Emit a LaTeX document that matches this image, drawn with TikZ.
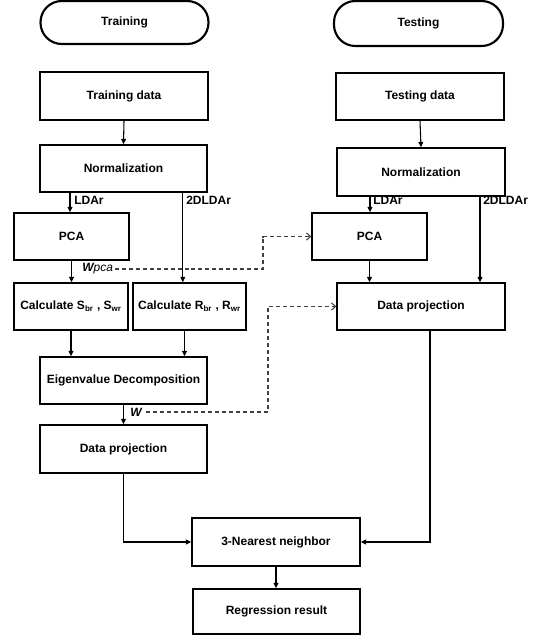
\documentclass[tikz,border=0pt]{standalone}
\usepackage{fontspec}
\setmainfont{Liberation Sans}
\usetikzlibrary{arrows.meta}
\begin{document}
\begin{tikzpicture}[x=0.75pt,y=-0.75pt,
  every node/.style={font=\fontsize{9}{11}\selectfont\bfseries},
  sz/.style 2 args={minimum width=#1*0.75pt, minimum height=#2*0.75pt, inner sep=0pt},
  box/.style={draw, line width=1.1pt},
  term/.style={draw, line width=1.6pt, rounded corners=16pt},
  lab/.style={anchor=west, inner sep=0pt},
  conn/.style={line width=0.8pt, -{Triangle[length=4pt,width=3.6pt]}},
  dconn/.style={line width=0.8pt, draw=black!75, dash pattern=on 3pt off 2.2pt, -{Straight Barb[length=3pt,width=5.5pt]}}
]
\useasboundingbox (0,0) rectangle (536,636);

\node[term, sz={168}{43}] (trainT) at (124.5,22.5) {Training};
\node[term, sz={169}{45}] (testT) at (418.5,23.5) {Testing};

\node[box, sz={168}{48}] (trd) at (124,96) {Training data};
\node[box, sz={168}{47}] (ted) at (420,96.5) {Testing data};
\node[box, sz={167}{47}] (trn) at (123.5,168.5) {Normalization};
\node[box, sz={168}{48}] (ten) at (421,172) {Normalization};
\node[box, sz={115}{47}] (trpca) at (71.5,236.5) {PCA};
\node[box, sz={115}{47}] (tepca) at (369.5,236.5) {PCA};
\node[box, sz={114}{47}] (cs) at (71,306.5) {Calculate S\textsubscript{br} , S\textsubscript{wr}};
\node[box, sz={113}{47}] (cr) at (189.5,306.5) {Calculate R\textsubscript{br} , R\textsubscript{wr}};
\node[box, sz={168}{47}] (tedp) at (421,306.5) {Data projection};
\node[box, sz={167}{47}] (eig) at (123.5,380.5) {Eigenvalue Decomposition};
\node[box, sz={167}{48}] (trdp) at (123.5,449) {Data projection};
\node[box, sz={168}{48}] (knn) at (276,542) {3-Nearest neighbor};
\node[box, sz={167}{45}] (reg) at (276.5,611.5) {Regression result};

% labels
\node[lab] (l1) at (74,200) {LDAr};
\node[lab] (l2) at (186,200) {2DLDAr};
\node[lab] (l3) at (373,200) {LDAr};
\node[lab] (l4) at (483,200) {2DLDAr};
\node[lab, font=\fontsize{9}{11}\selectfont\itshape] (wpca) at (82,269) {\textbf{W}pca};
\node[lab, font=\fontsize{9}{11}\selectfont\bfseries\itshape] (wl) at (130,412) {W};

% solid connectors
\draw[conn] (trd.south) -- (trn.north);
\draw[conn] (ted.south) -- (ten.north);
\draw[conn] (trn.south -| 70,0) -- (trpca.north -| 70,0);
\draw[conn] (trn.south -| 182.8,0) -- (cr.north -| 182.8,0);
\draw[conn] (ten.south -| 370,0) -- (tepca.north -| 370,0);
\draw[conn] (ten.south -| 480,0) -- (tedp.north -| 480,0);
\draw[conn] (trpca.south) -- (cs.north -| trpca.south);
\draw[conn] (tepca.south) -- (tedp.north -| tepca.south);
\draw[conn] (cs.south) -- (eig.north -| cs.south);
\draw[conn] (cr.south -| 184.5,0) -- (eig.north -| 184.5,0);
\draw[conn] (eig.south) -- (trdp.north);
\draw[conn] (trdp.south) |- (knn.west);
\draw[conn] (tedp.south -| 430,0) |- (knn.east);
\draw[conn] (knn.south) -- (reg.north -| knn.south);

% dashed connectors
\coordinate (c1) at (263,269);
\coordinate (c2) at (268,412);
\draw[dconn] (wpca.east) ++(2,0) -- (c1) |- (tepca.west);
\draw[dconn] (wl.east) ++(4,0) -- (c2) |- (tedp.west);
\end{tikzpicture}
\end{document}
